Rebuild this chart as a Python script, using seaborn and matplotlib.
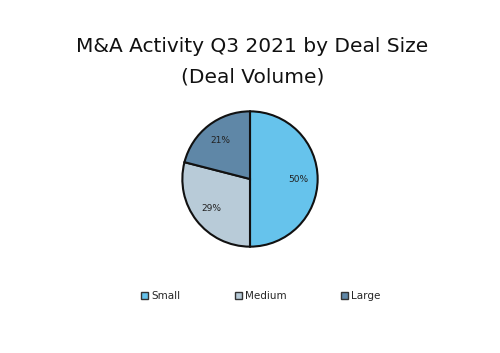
import matplotlib
matplotlib.use("Agg")
import matplotlib.pyplot as plt
from matplotlib.patches import Patch
import seaborn as sns

# data
deal_sizes = ["Small", "Medium", "Large"]
shares = [50, 29, 21]
slice_colors = ["#66c3ec", "#b8cbd8", "#5f87a7"]

sns.set_theme(style="white")
plt.rcParams['font.family'] = ['DejaVu Sans']

fig = plt.figure(figsize=(5, 3.53), dpi=100)
fig.patch.set_facecolor("white")

# pie axes, centred where the reference pie sits
ax = fig.add_axes([181 / 500, (353 - 179 - 69) / 353, 138 / 500, 138 / 353])
wedges, texts, autotexts = ax.pie(
    shares, colors=slice_colors, startangle=90, counterclock=False,
    autopct="%d%%", pctdistance=0.72,
    wedgeprops=dict(edgecolor="#111111", linewidth=1.5),
    textprops=dict(fontsize=6.5, color="#222222"))
ax.set_xlim(-1.02, 1.02)
ax.set_ylim(-1.02, 1.02)
ax.set_aspect("equal")

fig.text(0.505, 1 - 47 / 353, "M&A Activity Q3 2021 by Deal Size",
         ha="center", va="center", fontsize=14.5, color="#111111")
fig.text(0.505, 1 - 77 / 353, "(Deal Volume)",
         ha="center", va="center", fontsize=14.5, color="#111111")

handles = [Patch(facecolor=c, edgecolor="#333333", linewidth=1) for c in slice_colors]
fig.legend(handles, deal_sizes, loc="center", bbox_to_anchor=(0.522, 1 - 296 / 353),
           ncol=3, frameon=False, fontsize=7.5, handlelength=0.7, handleheight=0.7,
           handletextpad=0.3, columnspacing=5.2)

fig.savefig("out.png", dpi=100, facecolor="white")
